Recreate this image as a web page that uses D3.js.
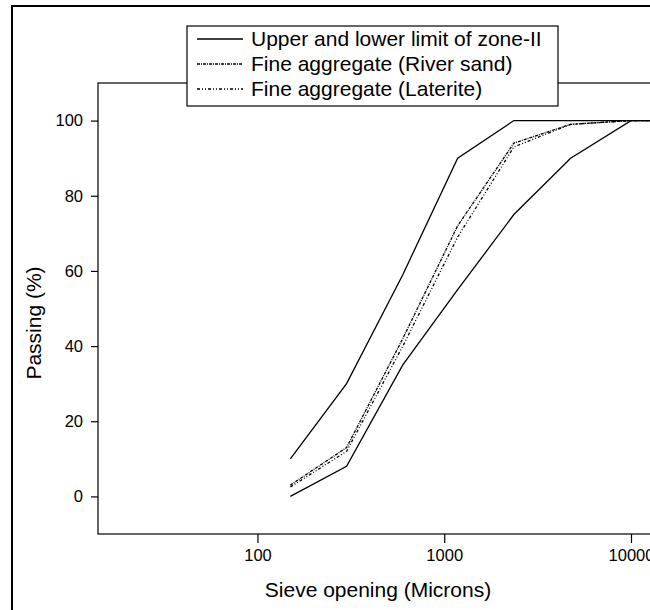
<!DOCTYPE html>
<html>
<head>
<meta charset="utf-8">
<script src="https://cdn.jsdelivr.net/npm/d3@7"></script>
<style>
  body { margin: 0; background: #fff; }
  svg { display: block; font-family: Arial, "Liberation Sans", sans-serif; }
</style>
</head>
<body>
<svg id="chart" width="650" height="610"></svg>
<script>
// Sieve sizes (microns) and percent passing
const sieves = [150, 300, 600, 1180, 2360, 4750, 10000, 20000];
const upperLimit = [10, 30, 59, 90, 100, 100, 100, 100];
const lowerLimit = [0, 8, 35, 55, 75, 90, 100, 100];
const riverSand = [3, 13, 42, 72, 94, 99, 100, 100];
const laterite = [2.5, 12, 40, 69, 93, 99, 100, 100];

const xTicks = [100, 1000, 10000];
const yTicks = [0, 20, 40, 60, 80, 100];

const legendItems = [
    { label: 'Upper and lower limit of zone-II', dash: null },
    { label: 'Fine aggregate (River sand)', dash: '3,1,1,1' },
    { label: 'Fine aggregate (Laterite)', dash: '3,2,1,2,1,2' }
];

const svg = d3.select('#chart');

// Plot frame
const plotLeft = 98, plotTop = 83, plotBottom = 534, plotRight = 660;

const x = d3.scaleLog().domain([14, 14300]).range([plotLeft, plotRight]);
const y = d3.scaleLinear().domain([-10, 110]).range([plotBottom, plotTop]);

// Outer figure border
svg.append('rect')
    .attr('x', 12).attr('y', 6)
    .attr('width', 700).attr('height', 700)
    .attr('fill', 'none').attr('stroke', '#000').attr('stroke-width', 2);

// Plot box
svg.append('rect')
    .attr('x', plotLeft).attr('y', plotTop)
    .attr('width', plotRight - plotLeft).attr('height', plotBottom - plotTop)
    .attr('fill', 'none').attr('stroke', '#000').attr('stroke-width', 1.2);

// X axis
const xAxis = svg.append('g')
    .attr('transform', `translate(0,${plotBottom})`)
    .call(d3.axisBottom(x).tickValues(xTicks).tickFormat(d3.format('d')).tickSize(9).tickPadding(6));
xAxis.select('.domain').remove();
xAxis.selectAll('line').attr('stroke-width', 1.2);
xAxis.selectAll('text').attr('font-size', 16.5).attr('fill', '#000')
    .attr('font-family', 'Arial, "Liberation Sans", sans-serif');

// Y axis
const yAxis = svg.append('g')
    .attr('transform', `translate(${plotLeft},0)`)
    .call(d3.axisLeft(y).tickValues(yTicks).tickSize(7).tickPadding(8));
yAxis.select('.domain').remove();
yAxis.selectAll('line').attr('stroke-width', 1.2);
yAxis.selectAll('text').attr('font-size', 16.5).attr('fill', '#000')
    .attr('font-family', 'Arial, "Liberation Sans", sans-serif');

// Axis titles
svg.append('text')
    .attr('x', 378).attr('y', 597)
    .attr('text-anchor', 'middle')
    .attr('font-size', 21)
    .text('Sieve opening (Microns)');

svg.append('text')
    .attr('transform', 'translate(41,323) rotate(-90)')
    .attr('text-anchor', 'middle')
    .attr('font-size', 21)
    .text('Passing (%)');

// Clip to plot area
svg.append('clipPath').attr('id', 'plot-clip')
    .append('rect')
    .attr('x', plotLeft).attr('y', plotTop)
    .attr('width', plotRight - plotLeft).attr('height', plotBottom - plotTop);

const line = d3.line()
    .x((d, i) => x(sieves[i]))
    .y(d => y(d));

const plot = svg.append('g').attr('clip-path', 'url(#plot-clip)');

const series = [
    { values: upperLimit, dash: null },
    { values: lowerLimit, dash: null },
    { values: riverSand, dash: legendItems[1].dash },
    { values: laterite, dash: legendItems[2].dash }
];

series.forEach(s => {
    plot.append('path')
        .datum(s.values)
        .attr('d', line)
        .attr('fill', 'none')
        .attr('stroke', '#000')
        .attr('stroke-width', 1.3)
        .attr('stroke-dasharray', s.dash);
});

// Legend
const legend = svg.append('g');
legend.append('rect')
    .attr('x', 187).attr('y', 26)
    .attr('width', 371).attr('height', 80)
    .attr('fill', '#fff').attr('stroke', '#000').attr('stroke-width', 1.2);

legendItems.forEach((item, i) => {
    const cy = 39 + i * 25;
    legend.append('line')
        .attr('x1', 197).attr('x2', 243)
        .attr('y1', cy).attr('y2', cy)
        .attr('stroke', '#000').attr('stroke-width', 1.3)
        .attr('stroke-dasharray', item.dash);
    legend.append('text')
        .attr('x', 251).attr('y', cy)
        .attr('dy', '0.35em')
        .attr('font-size', 21)
        .text(item.label);
});
</script>
</body>
</html>
